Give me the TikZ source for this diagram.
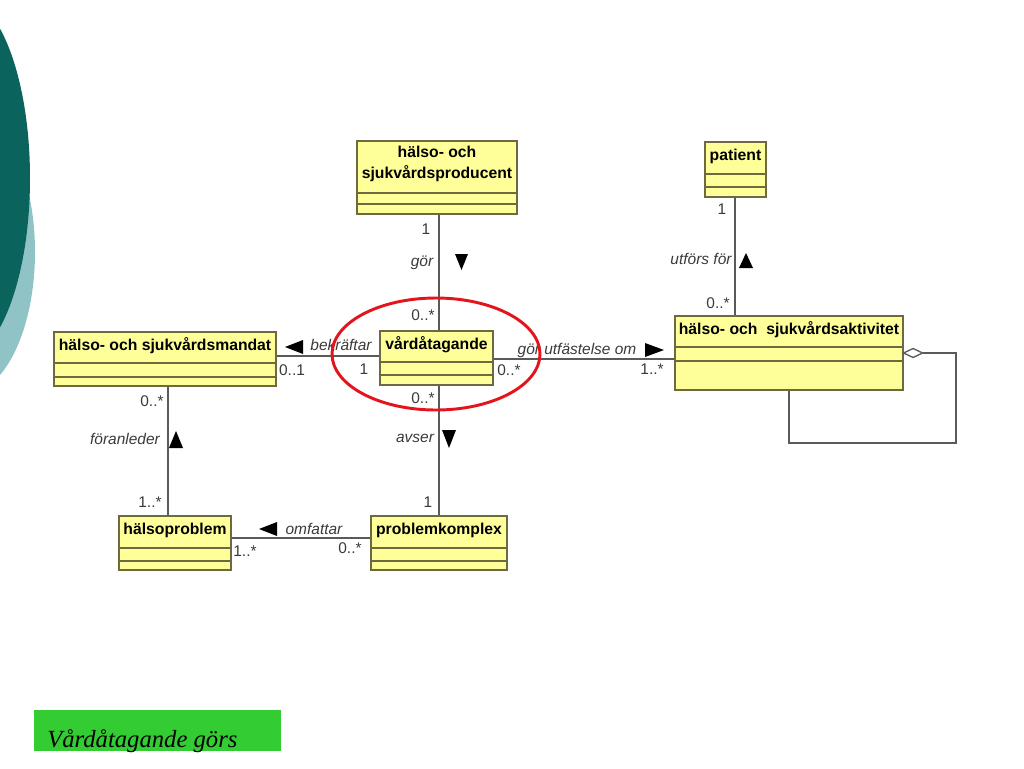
\documentclass[tikz,border=0pt]{standalone}
\usepackage{fontspec}
\setmainfont{Liberation Serif}
\setsansfont{Liberation Sans}
\usetikzlibrary{fit}
\definecolor{teald}{HTML}{0B635E}
\definecolor{tealx}{HTML}{90C3C5}
\definecolor{clsfill}{HTML}{FFFF99}
\definecolor{clsline}{HTML}{6E6A40}
\definecolor{conn}{HTML}{5A5A5A}
\definecolor{lbl}{HTML}{3A3A3A}
\definecolor{greenbox}{HTML}{33CC33}
\definecolor{redring}{HTML}{E3141B}
\newcommand\umlcls[7]{%
  \node[clsbox, fit={(#2,#3) (#4,#5)}] (#1) {};
  \draw[clsline, line width=0.9pt] (#2,#6) -- (#4,#6) (#2,#7) -- (#4,#7);
}
\begin{document}
\begin{tikzpicture}[x=0.75pt,y=-0.75pt,
  clsbox/.style={draw=clsline, fill=clsfill, line width=0.9pt, inner sep=0pt},
  clsname/.style={font=\sffamily\bfseries\fontsize{11.8}{16}\selectfont, align=center, inner sep=0pt, text=black},
  rolename/.style={font=\sffamily\itshape\fontsize{11.6}{14}\selectfont, inner sep=0pt, text=lbl},
  mult/.style={font=\sffamily\fontsize{11.6}{14}\selectfont, inner sep=0pt, text=lbl},
  assoc/.style={draw=conn, line width=1pt},
  dirtri/.style={fill=black}]
\useasboundingbox (0,0) rectangle (1024,768);
% slide decoration
\fill[tealx] (-35,252) ellipse [x radius=70, y radius=142];
\fill[teald] (-40,178) ellipse [x radius=70, y radius=182];

% classes
\umlcls{prod}{357}{141}{517}{214}{193}{204}
\umlcls{vard}{380}{331}{493}{385}{362}{375}
\umlcls{mandat}{54}{332}{276}{386}{363}{377}
\umlcls{hp}{119}{516}{231}{570}{548}{561}
\umlcls{pk}{371}{516}{507}{570}{548}{561}
\umlcls{patient}{705}{142}{766}{197}{174}{187}
\umlcls{aktiv}{675}{316}{903}{390}{347}{361}

\node[clsname] (tprod) at (437,164) {hälso- och\\sjukvårdsproducent};
\node[clsname] (tvard) at (436.5,345) {vårdåtagande};
\node[clsname] (tmandat) at (165,346) {hälso- och sjukvårdsmandat};
\node[clsname] (thp) at (175,530) {hälsoproblem};
\node[clsname] (tpk) at (439,530) {problemkomplex};
\node[clsname] (tpatient) at (735.5,156) {patient};
\node[clsname] (taktiv) at (789,330) {hälso- och\ \ sjukvårdsaktivitet};

% associations
\draw[assoc] (prod.south -| 439,0) -- (vard.north -| 439,0);
\draw[assoc] (vard.south -| 439,0) -- (pk.north -| 439,0);
\draw[assoc] (mandat.east |- 0,356) -- (vard.west |- 0,356);
\draw[assoc] (mandat.south -| 168,0) -- (hp.north -| 168,0);
\draw[assoc] (hp.east |- 0,538) -- (pk.west |- 0,538);
\draw[assoc] (vard.east |- 0,359) -- (aktiv.west |- 0,359);
\draw[assoc] (patient.south -| 735,0) -- (aktiv.north -| 735,0);
% self aggregation
\draw[assoc, fill=white] (aktiv.east |- 0,353) -- ++(9.5,-4.5) -- ++(9.5,4.5) coordinate (dtip) -- ++(-9.5,4.5) -- cycle;
\draw[assoc] (dtip) -- (956,353) -- (956,443) -- (789,443) -- (aktiv.south -| 789,0);

% labels producent - vardatagande
\node[mult] (m1) at (426,229) {1};
\node[rolename] (r1) at (422,263) {gör};
\fill[dirtri] (455,254) -- (468,254) -- (461.5,270) -- cycle;
\node[mult] (m2) at (423,315) {0..*};
% vardatagande - problemkomplex
\node[mult] (m3) at (423,398) {0..*};
\node[rolename] (r2) at (415,438) {avser};
\fill[dirtri] (442,430) -- (456,430) -- (449,448) -- cycle;
\node[mult] (m4) at (428,502) {1};
% mandat - vardatagande
\fill[dirtri] (285,347) -- (303,340) -- (303,354) -- cycle;
\node[rolename] (r3) at (341,345) {bekräftar};
\node[mult] (m5) at (292,370) {0..1};
\node[mult] (m6) at (364,369) {1};
% mandat - halsoproblem
\node[mult] (m7) at (152,401) {0..*};
\node[rolename] (r4) at (125,439) {föranleder};
\fill[dirtri] (169,448) -- (183,448) -- (176,431) -- cycle;
\node[mult] (m8) at (150,502) {1..*};
% halsoproblem - problemkomplex
\fill[dirtri] (259,529) -- (277,522) -- (277,536) -- cycle;
\node[rolename] (r5) at (314,529) {omfattar};
\node[mult] (m9) at (245,551) {1..*};
\node[mult] (m10) at (350,548) {0..*};
% vardatagande - aktivitet
\node[rolename] (r6) at (577,350) {gör utfästelse om};
\fill[dirtri] (645,343) -- (645,357) -- (664,350) -- cycle;
\node[mult] (m11) at (509,370) {0..*};
\node[mult] (m12) at (652,369) {1..*};
% patient - aktivitet
\node[mult] (m13) at (722,209) {1};
\node[rolename] (r7) at (701,259) {utförs för};
\fill[dirtri] (739,268) -- (753,268) -- (746,253) -- cycle;
\node[mult] (m14) at (718,303) {0..*};

% red highlight
\draw[redring, line width=2.2pt] (436,354) ellipse [x radius=104, y radius=56];

% caption
\node[fit={(34,710) (281,751)}, fill=greenbox, inner sep=0pt] (gbox) {};
\node[anchor=base west, inner sep=0pt, font=\itshape\fontsize{18.5}{20}\selectfont] (gtext) at (47,747) {Vårdåtagande görs};
\end{tikzpicture}
\end{document}
